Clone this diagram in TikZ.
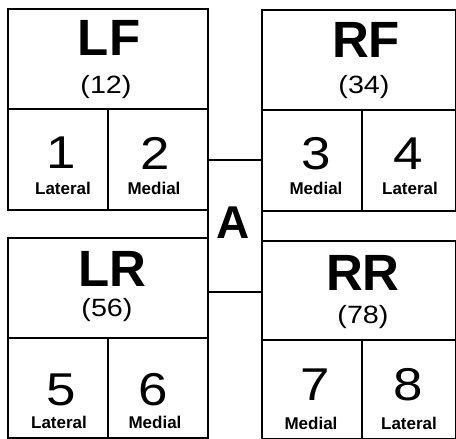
\documentclass[tikz,border=0pt]{standalone}
\usepackage{fontspec}
\setmainfont{Liberation Sans}
\newfontfamily\widesans[FakeStretch=1.15]{Liberation Sans}
\begin{document}
\begin{tikzpicture}[x=1pt,y=-1pt,
  box/.style={draw=black, line width=1.6pt, inner sep=0pt, anchor=north west},
  title/.style={font=\fontsize{51}{51}\selectfont\bfseries, inner sep=0pt},
  count/.style={font=\widesans\fontsize{25}{25}\selectfont, inner sep=0pt},
  digit/.style={font=\widesans\fontsize{46}{46}\selectfont, inner sep=0pt},
  side/.style={font=\fontsize{17}{17}\selectfont\bfseries, inner sep=0pt},
  centre/.style={font=\fontsize{46}{46}\selectfont\bfseries, inner sep=0pt}]
\useasboundingbox (0,0) rectangle (456,439);
\fill[white] (0,0) rectangle (456,439);

% central block
\node[box, minimum width=54pt, minimum height=132pt] (Abox) at (207,159) {};
\node[centre] (A) at (233.5,223) {A};

% left front
\node[box, minimum width=200pt, minimum height=100pt] (LF) at (7,8) {};
\node[box, minimum width=100pt, minimum height=101pt] (c1) at (7,108) {};
\node[box, minimum width=100pt, minimum height=101pt] (c2) at (107,108) {};
\node[title] (tLF) at (109,38) {LF};
\node[count] (nLF) at (106,87) {(12)};
\node[digit] (d1) at (61,153) {1};
\node[digit] (d2) at (155,153) {2};
\node[side] (s1) at (63,188) {Lateral};
\node[side] (s2) at (154,188) {Medial};

% right front
\node[box, minimum width=194pt, minimum height=100pt] (RF) at (261,9) {};
\node[box, minimum width=100pt, minimum height=101pt] (c3) at (261,109) {};
\node[box, minimum width=94pt, minimum height=101pt] (c4) at (361,109) {};
\node[title] (tRF) at (366,40) {RF};
\node[count] (nRF) at (364,87) {(34)};
\node[digit] (d3) at (316,154) {3};
\node[digit] (d4) at (408,154) {4};
\node[side] (s3) at (316,188) {Medial};
\node[side] (s4) at (410,188) {Lateral};

% left rear
\node[box, minimum width=200pt, minimum height=100pt] (LR) at (7,237) {};
\node[box, minimum width=100pt, minimum height=100pt] (c5) at (7,337) {};
\node[box, minimum width=100pt, minimum height=100pt] (c6) at (107,337) {};
\node[title] (tLR) at (112,268.5) {LR};
\node[count] (nLR) at (107,310) {(56)};
\node[digit] (d5) at (61,390) {5};
\node[digit] (d6) at (153,390) {6};
\node[side] (s5) at (59,422) {Lateral};
\node[side] (s6) at (155,422) {Medial};

% right rear
\node[box, minimum width=194pt, minimum height=99pt] (RR) at (261,240) {};
\node[box, minimum width=100pt, minimum height=99pt] (c7) at (261,339) {};
\node[box, minimum width=94pt, minimum height=99pt] (c8) at (361,339) {};
\node[title] (tRR) at (363,273) {RR};
\node[count] (nRR) at (363,317) {(78)};
\node[digit] (d7) at (315,385) {7};
\node[digit] (d8) at (408,385) {8};
\node[side] (s7) at (311,423) {Medial};
\node[side] (s8) at (409,423) {Lateral};
\end{tikzpicture}
\end{document}
